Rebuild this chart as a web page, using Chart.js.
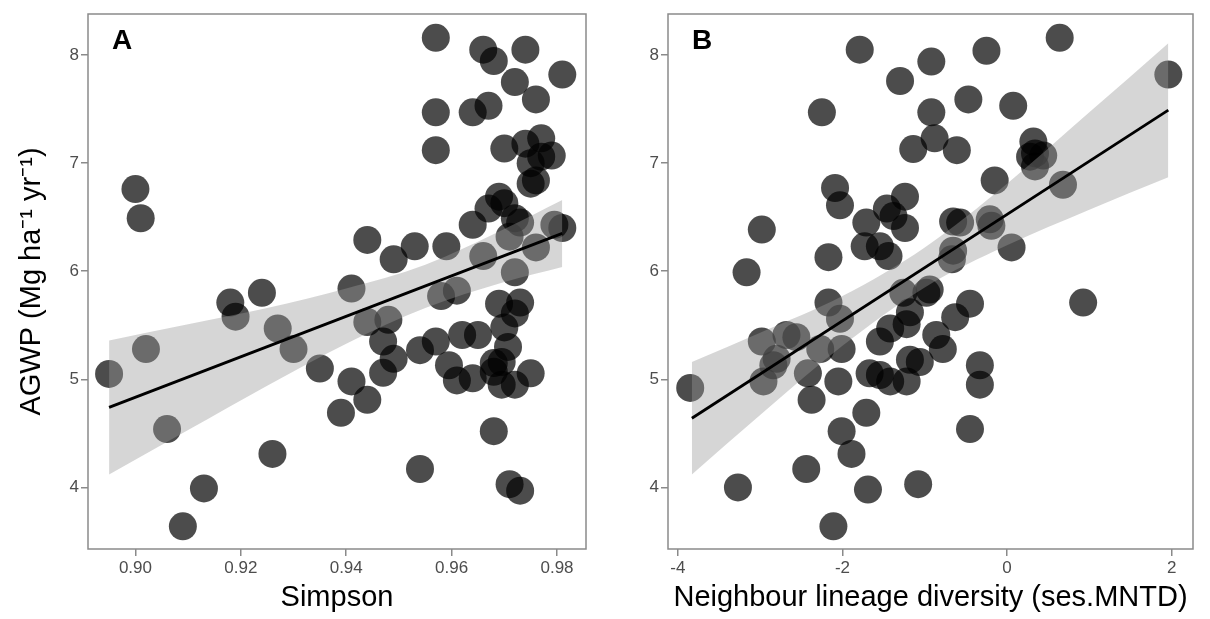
<!DOCTYPE html>
<html>
<head>
<meta charset="utf-8">
<script src="https://cdn.jsdelivr.net/npm/chart.js@4.4.1/dist/chart.umd.min.js"></script>
<style>
  html, body { margin: 0; padding: 0; background: #fff; }
  #wrap { position: relative; width: 1210px; height: 619px; }
  #wrap canvas { position: absolute; top: 0; }
</style>
</head>
<body>
<div id="wrap">
  <canvas id="chartA" width="600" height="619" style="left:0px"></canvas>
  <canvas id="chartB" width="610" height="619" style="left:600px"></canvas>
</div>
<script>
// panel A: Simpson vs AGWP
const simpsonX = [0.895,0.900,0.901,0.902,0.906,0.909,0.913,0.918,0.919,0.924,0.926,0.927,0.930,0.935,0.939,0.941,0.941,0.944,0.944,0.944,
  0.947,0.947,0.948,0.949,0.949,0.953,0.954,0.954,0.957,0.957,0.957,0.957,0.958,0.959,0.9595,0.961,0.961,0.962,0.964,0.964,
  0.964,0.965,0.966,0.966,0.967,0.967,0.968,0.968,0.968,0.968,0.969,0.969,0.9695,0.9695,0.970,0.970,0.970,0.9707,0.971,0.971,
  0.972,0.972,0.972,0.972,0.972,0.973,0.973,0.973,0.974,0.974,0.975,0.975,0.975,0.976,0.976,0.976,0.977,0.977,0.979,0.9795,
  0.981,0.981];
const simpsonAGWP = [5.05,6.76,6.49,5.28,4.54,3.64,3.99,5.71,5.58,5.80,4.31,5.47,5.28,5.10,4.69,5.84,4.98,6.29,5.53,4.81,
  5.35,5.06,5.55,5.19,6.11,6.23,5.27,4.17,8.16,7.47,7.12,5.35,5.77,6.23,5.13,5.82,4.99,5.41,7.47,6.43,
  5.01,5.41,8.05,6.14,7.53,6.58,7.945,5.07,5.15,4.52,6.69,5.70,5.16,4.95,7.135,6.63,5.48,5.30,6.32,4.03,
  7.75,6.49,5.99,5.61,4.95,6.45,5.71,3.97,8.05,7.18,7.00,6.81,5.055,7.59,6.84,6.22,7.23,7.06,7.07,6.43,
  7.82,6.40];
const fitAX = [0.895, 0.981];
const fitAY = [4.74, 6.35];
const bandAX = [0.895, 0.91, 0.925, 0.94, 0.955, 0.97, 0.981];
const bandAUpper = [5.36, 5.51, 5.66, 5.84, 6.06, 6.39, 6.66];
const bandALower = [4.12, 4.53, 4.94, 5.33, 5.66, 5.90, 6.04];
const ticksAX = [0.90, 0.92, 0.94, 0.96, 0.98];
const labelsAX = ['0.90', '0.92', '0.94', '0.96', '0.98'];

// panel B: ses.MNTD vs AGWP
const mntdX = [-3.85,-3.27,-3.165,-2.98,-2.98,-2.96,-2.84,-2.80,-2.68,-2.56,-2.44,-2.42,-2.375,-2.27,-2.25,-2.17,-2.17,-2.11,-2.09,-2.05,
  -2.03,-2.03,-2.01,-2.01,-1.89,-1.79,-1.73,-1.71,-1.71,-1.69,-1.67,-1.545,-1.545,-1.545,-1.46,-1.44,-1.42,-1.42,-1.38,-1.30,
  -1.26,-1.24,-1.24,-1.22,-1.22,-1.18,-1.18,-1.14,-1.08,-1.06,-0.98,-0.94,-0.92,-0.92,-0.88,-0.86,-0.78,-0.67,-0.655,-0.655,
  -0.63,-0.61,-0.57,-0.47,-0.45,-0.45,-0.33,-0.33,-0.25,-0.21,-0.19,-0.15,0.055,0.075,0.28,0.32,0.34,0.34,0.44,0.64,
  0.68,0.925,1.96];
const mntdAGWP = [4.92,4.00,5.99,6.385,5.35,4.98,5.13,5.19,5.41,5.39,4.17,5.055,4.81,5.28,7.47,6.13,5.71,3.64,6.77,4.98,
  6.61,5.56,5.28,4.52,4.31,8.05,6.23,6.45,4.69,3.98,5.055,6.23,5.35,5.04,6.58,6.14,5.47,4.98,6.51,7.76,
  5.80,6.69,6.40,5.51,4.98,5.62,5.18,7.13,4.03,5.16,5.80,5.83,7.94,7.47,7.23,5.41,5.28,6.11,6.46,6.19,
  5.575,7.12,6.45,7.59,5.70,4.54,5.13,4.95,8.04,6.48,6.42,6.84,6.22,7.53,7.06,7.20,7.09,6.97,7.07,8.16,
  6.80,5.71,7.82];
const fitBX = [-3.83, 1.96];
const fitBY = [4.64, 7.49];
const bandBX = [-3.83, -3, -2, -1, 0, 1, 1.96];
const bandBUpper = [5.16, 5.43, 5.77, 6.22, 6.81, 7.47, 8.11];
const bandBLower = [4.12, 4.67, 5.31, 5.85, 6.24, 6.57, 6.87];
const ticksBX = [-4, -2, 0, 2];
const labelsBX = ['-4', '-2', '0', '2'];

const ticksY = [4, 5, 6, 7, 8];
const labelsY = ['4', '5', '6', '7', '8'];

const FONT = '"Liberation Sans", Arial, Helvetica, sans-serif';
const GRIS = '#8a8a8a';

function pares(xs, ys) {
  return xs.map((x, i) => ({x: x, y: ys[i]}));
}

// marco completo y letra del panel
const marcoPlugin = {
  id: 'marco',
  afterDraw(chart, args, opts) {
    const a = chart.chartArea;
    const ctx = chart.ctx;
    ctx.save();
    ctx.strokeStyle = GRIS;
    ctx.lineWidth = 1.5;
    ctx.strokeRect(a.left, a.top, a.right - a.left, a.bottom - a.top);
    ctx.fillStyle = '#000';
    ctx.font = 'bold 28px ' + FONT;
    ctx.textBaseline = 'alphabetic';
    ctx.fillText(opts.letra, a.left + 24, 49);
    ctx.restore();
  }
};

function crearPanel(id, cfg) {
  const ctx = document.getElementById(id).getContext('2d');
  return new Chart(ctx, {
    type: 'scatter',
    data: {
      datasets: [
        {
          type: 'line',
          data: pares(cfg.fitX, cfg.fitY),
          borderColor: '#000',
          borderWidth: 2.8,
          pointRadius: 0,
          fill: false,
          order: 0
        },
        {
          type: 'line',
          data: pares(cfg.bandX, cfg.bandUp),
          borderWidth: 0,
          pointRadius: 0,
          backgroundColor: 'rgba(153,153,153,0.4)',
          cubicInterpolationMode: 'monotone',
          fill: '+1',
          order: 1
        },
        {
          type: 'line',
          data: pares(cfg.bandX, cfg.bandLow),
          borderWidth: 0,
          pointRadius: 0,
          cubicInterpolationMode: 'monotone',
          fill: false,
          order: 1
        },
        {
          data: pares(cfg.x, cfg.y),
          backgroundColor: 'rgba(0,0,0,0.7)',
          borderWidth: 0,
          pointRadius: 14,
          pointHoverRadius: 14,
          order: 2
        }
      ]
    },
    options: {
      responsive: false,
      animation: false,
      devicePixelRatio: 1,
      layout: {padding: {top: 9, right: cfg.padRight, left: 0, bottom: 0}},
      plugins: {
        legend: {display: false},
        tooltip: {enabled: false},
        marco: {letra: cfg.letra}
      },
      scales: {
        x: {
          type: 'linear',
          min: cfg.xMin,
          max: cfg.xMax,
          afterBuildTicks: s => { s.ticks = cfg.ticksX.map(v => ({value: v})); },
          afterFit: s => { s.height = 70; },
          ticks: {
            autoSkip: false,
            maxRotation: 0,
            padding: 2,
            color: '#4d4d4d',
            font: {family: FONT, size: 17},
            callback: (v, i) => cfg.labelsX[i]
          },
          grid: {display: true, drawOnChartArea: false, drawTicks: true, tickLength: 7, color: GRIS, lineWidth: 1.5},
          border: {display: false},
          title: {
            display: true,
            text: cfg.tituloX,
            color: '#000',
            font: {family: FONT, size: 29},
            padding: {top: 0, bottom: 4}
          }
        },
        y: {
          type: 'linear',
          min: 3.43,
          max: 8.38,
          afterBuildTicks: s => { s.ticks = ticksY.map(v => ({value: v})); },
          afterFit: s => { s.width = cfg.anchoY; },
          ticks: {
            padding: 2,
            color: '#4d4d4d',
            // lineHeight bajo para que la etiqueta "8" no empuje el área hacia abajo
            font: {family: FONT, size: 17, lineHeight: 0.6},
            callback: (v, i) => labelsY[i]
          },
          grid: {display: true, drawOnChartArea: false, drawTicks: true, tickLength: 7, color: GRIS, lineWidth: 1.5},
          border: {display: false},
          title: {
            display: cfg.tituloY !== '',
            text: cfg.tituloY,
            color: '#000',
            font: {family: FONT, size: 29},
            padding: {top: 15, bottom: 0}
          }
        }
      }
    },
    plugins: [marcoPlugin]
  });
}

crearPanel('chartA', {
  x: simpsonX, y: simpsonAGWP,
  fitX: fitAX, fitY: fitAY,
  bandX: bandAX, bandUp: bandAUpper, bandLow: bandALower,
  ticksX: ticksAX, labelsX: labelsAX,
  xMin: 0.891, xMax: 0.9855,
  anchoY: 88, padRight: 8,
  tituloX: 'Simpson',
  tituloY: 'AGWP (Mg ha\u207B\u00B9 yr\u207B\u00B9)',
  letra: 'A'
});

crearPanel('chartB', {
  x: mntdX, y: mntdAGWP,
  fitX: fitBX, fitY: fitBY,
  bandX: bandBX, bandUp: bandBUpper, bandLow: bandBLower,
  ticksX: ticksBX, labelsX: labelsBX,
  xMin: -4.12, xMax: 2.26,
  anchoY: 68, padRight: 17,
  tituloX: 'Neighbour lineage diversity (ses.MNTD)',
  tituloY: '',
  letra: 'B'
});
</script>
</body>
</html>
